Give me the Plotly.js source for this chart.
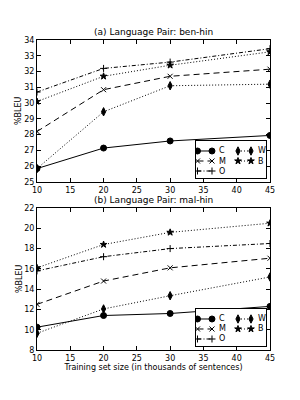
<!DOCTYPE html>
<html><head><meta charset="utf-8">
<script src="https://cdn.plot.ly/plotly-3.0.1.min.js"></script>
<style>body{margin:0;padding:0;background:#fff}#c{width:300px;height:400px}</style>
</head><body><div id="c"></div>
<script>
const xs = [10, 20, 30, 45];
const seriesNames = ["C", "M", "O", "W", "B"];
const benHin = {
  C: [25.85, 27.15, 27.6, 27.95],
  M: [28.2, 30.85, 31.7, 32.15],
  O: [30.7, 32.2, 32.6, 33.45],
  W: [25.85, 29.45, 31.1, 31.2],
  B: [30.1, 31.7, 32.4, 33.25]
};
const malHin = {
  C: [10.25, 11.4, 11.6, 12.3],
  M: [12.5, 14.8, 16.1, 17.05],
  O: [15.8, 17.2, 18.0, 18.5],
  W: [9.65, 12.05, 13.35, 15.2],
  B: [16.1, 18.4, 19.6, 20.5]
};
const titleA = "(a) Language Pair: ben-hin";
const titleB = "(b) Language Pair: mal-hin";
const xTitle = "Training set size (in thousands of sentences)";
const yTitle = "%BLEU";

const styles = {
  C: {dash: "solid", symbol: "circle", size: 6},
  M: {dash: "6px,4px", symbol: "x-thin-open", size: 5},
  O: {dash: "4px,2px,1px,2px", symbol: "cross-thin-open", size: 5},
  W: {dash: "1px,2px", symbol: "diamond-tall", size: 6},
  B: {dash: "1px,2px", symbol: "star", size: 5}
};

function styled(n, extra) {
  const s = styles[n];
  return Object.assign({
    type: "scatter", mode: "lines+markers", name: n, showlegend: false,
    line: {color: "black", width: 1, dash: s.dash},
    marker: {color: "black", symbol: s.symbol, size: s.size, line: {color: "black", width: 1}}
  }, extra);
}

const traces = [];
const annotations = [];
[[benHin, "x", "y"], [malHin, "x2", "y2"]].forEach(([d, xa, ya]) => {
  seriesNames.forEach(n => traces.push(styled(n, {x: xs, y: d[n], xaxis: xa, yaxis: ya})));
});
// matplotlib-style legends (2 columns, column-major) in inset axes
[["x3", "y3"], ["x4", "y4"]].forEach(([xa, ya]) => {
  seriesNames.forEach((n, i) => {
    const col = Math.floor(i / 3), row = i % 3;
    const x0 = col === 0 ? 1.5 : 42, x1 = col === 0 ? 16 : 55;
    const ty = 10 + row * 10;
    traces.push(styled(n, {x: [x0, x1], y: [ty, ty], xaxis: xa, yaxis: ya}));
    annotations.push({text: n, x: x1 + 5, y: ty, xref: xa, yref: ya, xanchor: "left", yanchor: "middle",
      showarrow: false, font: {size: 8, color: "black"}});
  });
});

const axBase = {
  showline: true, mirror: "allticks", linecolor: "black", linewidth: 1,
  ticks: "inside", ticklen: 4, tickcolor: "black", showgrid: false, zeroline: false,
  tickfont: {size: 8, color: "black"}
};
const inset = {showline: true, mirror: true, linecolor: "black", linewidth: 1, ticks: "",
  showticklabels: false, showgrid: false, zeroline: false, fixedrange: true};

const layout = {
  width: 300, height: 400,
  margin: {l: 37, r: 30, t: 40, b: 50},
  paper_bgcolor: "white", plot_bgcolor: "white",
  font: {family: "DejaVu Sans", size: 8, color: "black"}, showlegend: false,
  xaxis: Object.assign({}, axBase, {range: [10, 45], dtick: 5, tick0: 10, anchor: "y", domain: [0, 1]}),
  yaxis: Object.assign({}, axBase, {range: [25, 34], dtick: 1, domain: [0.542, 1], anchor: "x"}),
  xaxis2: Object.assign({}, axBase, {range: [10, 45], dtick: 5, tick0: 10, anchor: "y2", domain: [0, 1],
    title: {text: xTitle, font: {size: 8}, standoff: 2}}),
  yaxis2: Object.assign({}, axBase, {range: [8, 22], dtick: 2, domain: [0, 0.458], anchor: "x2"}),
  xaxis3: Object.assign({}, inset, {range: [0, 70], domain: [0.6824, 0.9828], anchor: "y3"}),
  yaxis3: Object.assign({}, inset, {range: [37, 0], domain: [0.5548, 0.6742], anchor: "x3"}),
  xaxis4: Object.assign({}, inset, {range: [0, 70], domain: [0.6824, 0.9828], anchor: "y4"}),
  yaxis4: Object.assign({}, inset, {range: [37, 0], domain: [0.0129, 0.1323], anchor: "x4"}),
  annotations: annotations.concat([
    {text: titleA, xref: "paper", yref: "paper", x: 0.5, y: 1, yanchor: "bottom", showarrow: false, font: {size: 9}, yshift: 1},
    {text: titleB, xref: "paper", yref: "paper", x: 0.5, y: 0.458, yanchor: "bottom", showarrow: false, font: {size: 9}, yshift: 1},
    {text: yTitle, xref: "paper", yref: "paper", x: 0, y: 0.771, xanchor: "center", yanchor: "middle", textangle: -90,
      xshift: -18, showarrow: false, font: {size: 8}},
    {text: yTitle, xref: "paper", yref: "paper", x: 0, y: 0.229, xanchor: "center", yanchor: "middle", textangle: -90,
      xshift: -18, showarrow: false, font: {size: 8}}
  ])
};
Plotly.newPlot("c", traces, layout, {staticPlot: true});
</script></body></html>
